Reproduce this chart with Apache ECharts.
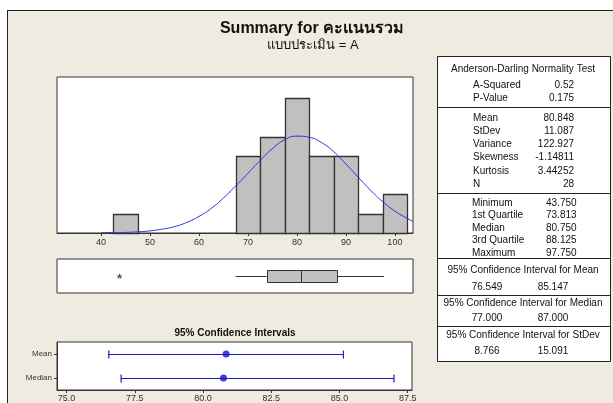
<!DOCTYPE html>
<html><head><meta charset="utf-8">
<script src="https://cdn.jsdelivr.net/npm/echarts@6/dist/echarts.min.js"></script>
<style>
html,body{margin:0;padding:0;background:#fff;}
#bg{position:absolute;left:7px;top:10px;width:606px;height:393px;background:#efebe0;border-top:1px solid #222;border-left:1px solid #222;box-sizing:border-box;}
#chart{position:absolute;left:0;top:0;width:613px;height:403px;}
</style></head>
<body><div id="bg"></div><div id="chart"></div>
<script>
// ---- data ----
const binCenters = [45, 70, 75, 80, 85, 90, 95, 100];
const binCounts  = [1, 4, 5, 7, 4, 4, 1, 2];
const binWidth = 5;
const curveX = [40, 42.5, 45, 47.5, 50, 52.5, 55, 57.5, 60, 62.5, 65, 67.5, 70, 72.5, 75, 77.5, 80, 82.5, 85, 87.5, 90, 92.5, 95, 97.5, 100, 102.5, 103.7];
const curveY = [0.01, 0.02, 0.03, 0.06, 0.11, 0.2, 0.33, 0.55, 0.86, 1.28, 1.82, 2.45, 3.1, 3.77, 4.38, 4.84, 5.03, 4.97, 4.7, 4.22, 3.58, 2.9, 2.23, 1.63, 1.14, 0.76, 0.6];
const histTicks = [40, 50, 60, 70, 80, 90, 100];
const boxStats = [67.5, 73.813, 80.75, 88.125, 97.75];
const outliers = [43.75];
const ciNames = ['Mean', 'Median'];
const ciLow = [76.549, 77.0];
const ciHigh = [85.147, 87.0];
const ciCenter = [80.848, 80.75];
const ciTicks = [75.0, 77.5, 80.0, 82.5, 85.0, 87.5];

const adTitle = 'Anderson-Darling Normality Test';
const adLabels = ['A-Squared', 'P-Value'];
const adValues = ['0.52', '0.175'];
const descLabels = ['Mean', 'StDev', 'Variance', 'Skewness', 'Kurtosis', 'N'];
const descValues = ['80.848', '11.087', '122.927', '-1.14811', '3.44252', '28'];
const quartLabels = ['Minimum', '1st Quartile', 'Median', '3rd Quartile', 'Maximum'];
const quartValues = ['43.750', '73.813', '80.750', '88.125', '97.750'];
const ciHeaders = ['95% Confidence Interval for Mean', '95% Confidence Interval for Median', '95% Confidence Interval for StDev'];
const ciTabLow = ['76.549', '77.000', '8.766'];
const ciTabHigh = ['85.147', '87.000', '15.091'];

const titleText = 'Summary for คะแนนรวม';
const subtitleText = 'แบบประเมิน = A';
const ciTitle = '95% Confidence Intervals';

// ---- chart ----
const FONT = "'Liberation Sans', 'Noto Sans', 'DejaVu Sans', sans-serif";
const chart = echarts.init(document.getElementById('chart'), null, {renderer: 'canvas'});

const gfx = [];
function txt(x, y, s, opt) {
  gfx.push(Object.assign({type: 'text', x: x, y: y, style: Object.assign({text: s, fill: '#111', font: '10px ' + FONT, textAlign: 'left', textVerticalAlign: 'middle'}, opt || {})}));
}
function hline(y) {
  gfx.push({type: 'line', shape: {x1: 437, y1: y + 0.5, x2: 610, y2: y + 0.5}, style: {stroke: '#222', lineWidth: 1}});
}
// titles
txt(312, 29, titleText, {font: 'bold 16px ' + FONT, textAlign: 'center'});
txt(313, 45, subtitleText, {font: '13px ' + FONT, textAlign: 'center'});
txt(235, 333, ciTitle, {font: 'bold 10px ' + FONT, textAlign: 'center'});
// table
gfx.push({type: 'rect', shape: {x: 437.5, y: 56.5, width: 173, height: 305}, style: {fill: '#fff', stroke: '#222', lineWidth: 1}});
hline(107); hline(193); hline(258); hline(295); hline(326);
txt(523, 69, adTitle, {textAlign: 'center'});
adLabels.forEach((l, i) => { txt(473, 85 + i * 13, l); txt(574, 85 + i * 13, adValues[i], {textAlign: 'right'}); });
descLabels.forEach((l, i) => { txt(473, 118 + i * 13.2, l); txt(574, 118 + i * 13.2, descValues[i], {textAlign: 'right'}); });
quartLabels.forEach((l, i) => { txt(472, 203 + i * 12.5, l); txt(546, 203 + i * 12.5, quartValues[i]); });
const ciHeadY = [270, 303, 335];
const ciValY = [287, 318, 351];
ciHeaders.forEach((h, i) => {
  txt(523, ciHeadY[i], h, {textAlign: 'center'});
  txt(487, ciValY[i], ciTabLow[i], {textAlign: 'center'});
  txt(553, ciValY[i], ciTabHigh[i], {textAlign: 'center'});
});

const axisLblStyle = {fontSize: 9, color: '#333', fontFamily: FONT};

const option = {
  backgroundColor: 'transparent',
  animation: false,
  textStyle: {fontFamily: FONT},
  grid: [
    {left: 57, top: 77, width: 356, height: 156, show: true, backgroundColor: '#fff', borderColor: '#333', borderWidth: 1},
    {left: 57, top: 259, width: 356, height: 34, show: true, backgroundColor: '#fff', borderColor: '#333', borderWidth: 1},
    {left: 57, top: 342, width: 355, height: 51, show: true, backgroundColor: '#fff', borderColor: '#333', borderWidth: 1}
  ],
  xAxis: [
    {gridIndex: 0, type: 'value', min: 31, max: 103.7, splitLine: {show: false},
     axisLine: {show: true, lineStyle: {color: '#333'}},
     axisTick: {show: true, length: 3, customValues: histTicks, lineStyle: {color: '#333'}},
     axisLabel: Object.assign({customValues: histTicks, margin: 5}, axisLblStyle)},
    {gridIndex: 1, type: 'value', min: 31, max: 103.7, show: false, splitLine: {show: false}},
    {gridIndex: 2, type: 'value', min: 74.65, max: 87.66, splitLine: {show: false},
     axisLine: {show: true, lineStyle: {color: '#333'}},
     axisTick: {show: true, length: 3, customValues: ciTicks, lineStyle: {color: '#333'}},
     axisLabel: Object.assign({customValues: ciTicks, margin: 4, formatter: v => Number(v).toFixed(1)}, axisLblStyle)}
  ],
  yAxis: [
    {gridIndex: 0, type: 'value', min: 0, max: 8.1, show: false, splitLine: {show: false}},
    {gridIndex: 1, type: 'value', min: 0, max: 1, show: false, splitLine: {show: false}},
    {gridIndex: 2, type: 'category', data: ciNames.slice().reverse(), boundaryGap: true,
     axisLine: {show: true, lineStyle: {color: '#333'}},
     axisTick: {show: true, length: 3, alignWithLabel: true, lineStyle: {color: '#333'}},
     axisLabel: {fontSize: 8, color: '#333', margin: 5, fontFamily: FONT},
     splitLine: {show: false}}
  ],
  graphic: gfx,
  series: [
    {type: 'custom', xAxisIndex: 0, yAxisIndex: 0, z: 2,
     data: binCenters.map((c, i) => [c, binCounts[i]]),
     renderItem: function (params, api) {
       const c = api.value(0), n = api.value(1);
       const p1 = api.coord([c - binWidth / 2, n]);
       const p2 = api.coord([c + binWidth / 2, 0]);
       return {type: 'rect', shape: {x: Math.round(p1[0]) + 0.5, y: Math.round(p1[1]) + 0.5, width: Math.round(p2[0]) - Math.round(p1[0]), height: Math.round(p2[1]) - Math.round(p1[1])},
               style: {fill: '#c0c0c0', stroke: '#333', lineWidth: 1.3}};
     }},
    {type: 'line', xAxisIndex: 0, yAxisIndex: 0, z: 3, smooth: true, showSymbol: false,
     data: curveX.map((x, i) => [x, curveY[i]]),
     lineStyle: {color: '#3030c8', width: 1}},
    {type: 'custom', xAxisIndex: 1, yAxisIndex: 1, z: 2,
     data: [boxStats],
     renderItem: function (params, api) {
       const lo = api.coord([api.value(0), 0.5]);
       const q1 = api.coord([api.value(1), 0.5]);
       const md = api.coord([api.value(2), 0.5]);
       const q3 = api.coord([api.value(3), 0.5]);
       const hi = api.coord([api.value(4), 0.5]);
       const y = Math.round(q1[1]) + 0.5, h = 6;
       const st = {stroke: '#333', lineWidth: 1};
       return {type: 'group', children: [
         {type: 'line', shape: {x1: lo[0], y1: y, x2: q1[0], y2: y}, style: st},
         {type: 'line', shape: {x1: q3[0], y1: y, x2: hi[0], y2: y}, style: st},
         {type: 'rect', shape: {x: Math.round(q1[0]) + 0.5, y: y - h, width: Math.round(q3[0] - q1[0]), height: 2 * h}, style: {fill: '#c0c0c0', stroke: '#333', lineWidth: 1}},
         {type: 'line', shape: {x1: Math.round(md[0]) + 0.5, y1: y - h, x2: Math.round(md[0]) + 0.5, y2: y + h}, style: st}
       ]};
     }},
    {type: 'scatter', xAxisIndex: 1, yAxisIndex: 1, z: 3,
     data: outliers.map(v => [v, 0.5]),
     symbolSize: 1, itemStyle: {color: 'rgba(0,0,0,0)'},
     label: {show: true, position: 'inside', formatter: '*', fontSize: 13, fontWeight: 'bold', color: '#222', offset: [0, 3]}},
    {type: 'custom', xAxisIndex: 2, yAxisIndex: 2, z: 2,
     data: ciNames.map((n, i) => [ciLow[i], ciHigh[i], n]),
     renderItem: function (params, api) {
       const cat = ciNames[params.dataIndex];
       const a = api.coord([api.value(0), cat]);
       const b = api.coord([api.value(1), cat]);
       const y = Math.round(a[1]) + 0.5, c = 4;
       const st = {stroke: '#1a1ac8', lineWidth: 1.2};
       return {type: 'group', children: [
         {type: 'line', shape: {x1: a[0], y1: y, x2: b[0], y2: y}, style: st},
         {type: 'line', shape: {x1: a[0], y1: y - c, x2: a[0], y2: y + c}, style: st},
         {type: 'line', shape: {x1: b[0], y1: y - c, x2: b[0], y2: y + c}, style: st}
       ]};
     }},
    {type: 'scatter', xAxisIndex: 2, yAxisIndex: 2, z: 3,
     data: ciNames.map((n, i) => [ciCenter[i], n]),
     symbol: 'circle', symbolSize: 7, itemStyle: {color: '#1010d0'}}
  ]
};
chart.setOption(option);
</script>
</body></html>
